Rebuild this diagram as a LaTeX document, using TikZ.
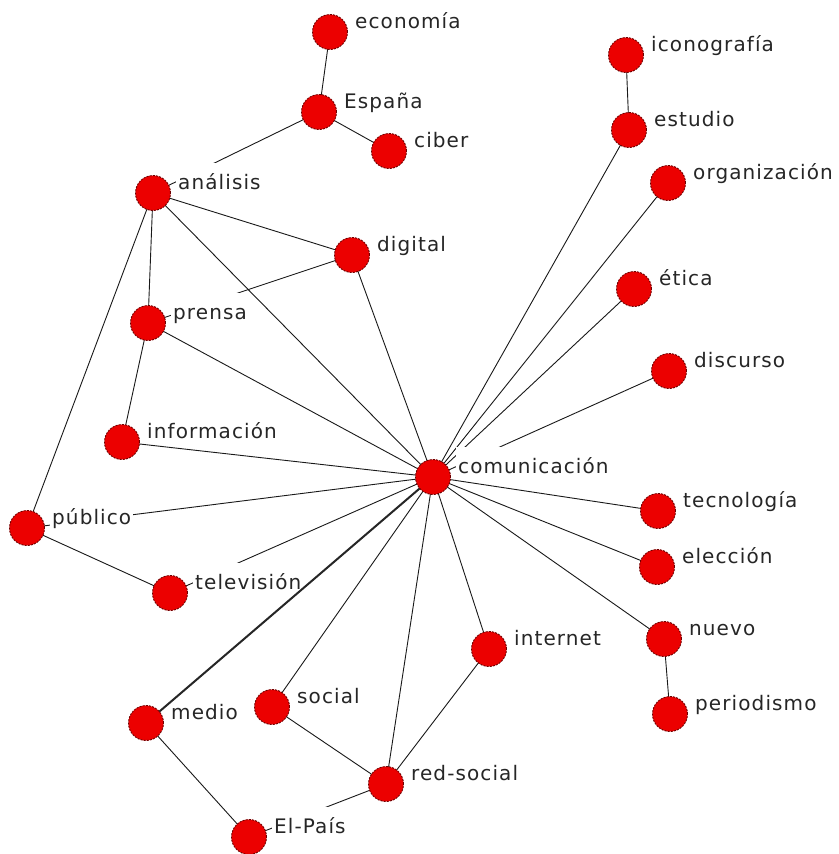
\documentclass[tikz,border=0pt]{standalone}
\usepackage{fontspec}
\setmainfont{DejaVu Sans}[LetterSpace=5.5]
\usetikzlibrary{calc}
\pgfdeclarelayer{bglayer}
\pgfdeclarelayer{edgelayer}
\pgfdeclarelayer{labellayer}
\pgfsetlayers{bglayer,edgelayer,labellayer,main}
\definecolor{nodered}{RGB}{236,0,0}
\definecolor{rimred}{RGB}{110,0,0}
\tikzset{
  vtx/.style={circle, fill=nodered, draw=rimred, line width=0.9pt,
    dash pattern=on 2pt off 1.2pt, minimum size=35pt, inner sep=0pt},
  lbl/.style={anchor=base west, fill=white, inner xsep=2pt, inner ysep=0pt,
    text height=26pt, text depth=6pt,
    font=\fontsize{20pt}{24pt}\selectfont, text=black!85},
  edge/.style={draw=black!90, line width=0.9pt},
  thickedge/.style={draw=black!85, line width=2pt}
}
\newcommand{\vx}[4]{%
  \node[vtx] (#1) at (#2,#3) {};
  \begin{pgfonlayer}{labellayer}
    \node[lbl] (#1-l) at ($(#1)+(23,-4)$) {#4};
  \end{pgfonlayer}}
\begin{document}
\begin{tikzpicture}[x=1pt,y=-1pt]
\begin{pgfonlayer}{bglayer}
\fill[white] (0,0) rectangle (838,854);
\end{pgfonlayer}
\useasboundingbox (0,0) rectangle (838,854);
\vx{eco}{330}{32}{economía}
\vx{esp}{319}{112}{España}
\vx{cib}{389}{151}{ciber}
\vx{ana}{153}{193}{análisis}
\vx{dig}{352}{255}{digital}
\vx{pre}{148}{323}{prensa}
\vx{inf}{122}{442}{información}
\vx{com}{433}{477}{comunicación}
\vx{pub}{27}{528}{público}
\vx{tel}{170}{593}{televisión}
\vx{med}{146}{723}{medio}
\vx{soc}{272}{707}{social}
\vx{int}{489}{649}{internet}
\vx{red}{386}{784}{red-social}
\vx{elp}{249}{837}{El-País}
\vx{ico}{626}{55}{iconografía}
\vx{est}{629}{130}{estudio}
\vx{org}{668}{183}{organización}
\vx{eti}{634}{289}{ética}
\vx{dis}{669}{371}{discurso}
\vx{tec}{658}{511}{tecnología}
\vx{ele}{657}{567}{elección}
\vx{nue}{664}{639}{nuevo}
\vx{per}{670}{714}{periodismo}
\begin{pgfonlayer}{edgelayer}
\draw[edge] (eco.center) -- (esp.center);
\draw[edge] (esp.center) -- (cib.center);
\draw[edge] (esp.center) -- (ana.center);
\draw[edge] (ana.center) -- (dig.center);
\draw[edge] (ana.center) -- (pre.center);
\draw[edge] (ana.center) -- (pub.center);
\draw[edge] (ana.center) -- (com.center);
\draw[edge] (pre.center) -- (dig.center);
\draw[edge] (pre.center) -- (inf.center);
\draw[edge] (pre.center) -- (com.center);
\draw[edge] (dig.center) -- (com.center);
\draw[edge] (inf.center) -- (com.center);
\draw[edge] (pub.center) -- (com.center);
\draw[edge] (pub.center) -- (tel.center);
\draw[edge] (tel.center) -- (com.center);
\draw[edge] (med.center) -- (elp.center);
\draw[edge] (soc.center) -- (com.center);
\draw[edge] (soc.center) -- (red.center);
\draw[edge] (red.center) -- (com.center);
\draw[edge] (red.center) -- (elp.center);
\draw[edge] (int.center) -- (com.center);
\draw[edge] (ico.center) -- (est.center);
\draw[edge] (est.center) -- (com.center);
\draw[edge] (org.center) -- (com.center);
\draw[edge] (eti.center) -- (com.center);
\draw[edge] (dis.center) -- (com.center);
\draw[edge] (tec.center) -- (com.center);
\draw[edge] (ele.center) -- (com.center);
\draw[edge] (nue.center) -- (com.center);
\draw[edge] (nue.center) -- (per.center);
\end{pgfonlayer}
\begin{pgfonlayer}{labellayer}
\draw[thickedge] (med.center) -- (com.center);
\draw[edge] (red.center) -- (int.center);
\end{pgfonlayer}
\end{tikzpicture}
\end{document}
